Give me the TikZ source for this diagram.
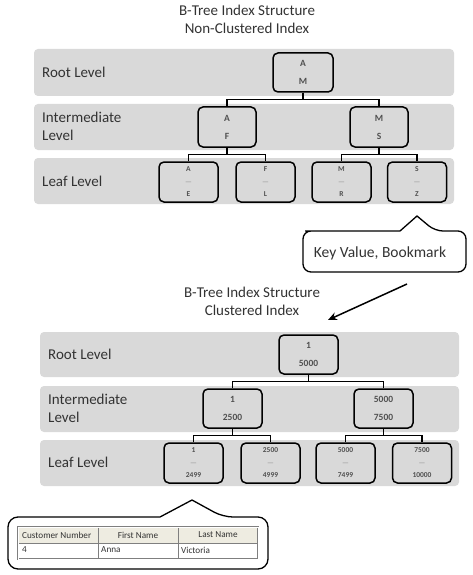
\documentclass[tikz,border=0pt]{standalone}
\usepackage{fontspec}
\setmainfont{Carlito}
\usetikzlibrary{arrows.meta}
\definecolor{band}{HTML}{D9D9D9}
\definecolor{txt}{HTML}{333333}
\definecolor{boxtxt}{HTML}{505050}
\definecolor{dashc}{HTML}{909090}
\definecolor{hdr}{HTML}{EEECE1}
\definecolor{grid}{HTML}{7F7F7F}
\tikzset{
  bandbox/.style={fill=band, rounded corners=4pt},
  keybox/.style={draw=black, line width=1.5pt, rounded corners=5pt, minimum width=59pt, minimum height=39pt, inner sep=0pt, align=center, text=boxtxt},
  rootfont/.style={font=\fontsize{9.5}{18}\selectfont\bfseries},
  leaffont/.style={font=\fontsize{7.5}{12.5}\selectfont\bfseries},
  lvl/.style={anchor=west, text=txt, font=\fontsize{15}{18}\selectfont, align=left, inner sep=0pt},
  ttl/.style={text=txt, font=\fontsize{15}{18}\selectfont, align=center, inner sep=0pt},
  conn/.style={draw=black, line width=1.3pt},
  callout/.style={draw=black, line width=1.3pt, fill=white},
  tbl/.style={font=\fontsize{9.2}{10}\selectfont, text=txt, inner sep=0pt}
}
\newcommand{\dsh}{\textcolor{dashc}{\textmd{---}}}
\begin{document}
\begin{tikzpicture}[x=1pt,y=-1pt]
\useasboundingbox[fill=white] (0,0) rectangle (472,575);

% ---------- Non-clustered ----------
\node[ttl] (t1) at (247,19) {B-Tree Index Structure\\Non-Clustered Index};
\fill[bandbox] (34,49) rectangle (454,96);
\fill[bandbox] (34,104) rectangle (454,150);
\fill[bandbox] (34,158) rectangle (454,204);
\node[lvl] (l1) at (42,72) {Root Level};
\node[lvl] (l2) at (42,126) {Intermediate\\Level};
\node[lvl] (l3) at (42,181) {Leaf Level};

\node[keybox, rootfont, minimum width=60pt] (r) at (303,72.5) {A\\M};
\node[keybox, rootfont, minimum width=58pt, minimum height=40pt] (ia) at (227,127) {A\\F};
\node[keybox, rootfont, minimum width=58pt, minimum height=40pt] (ib) at (379,127) {M\\S};
\node[keybox, leaffont, minimum height=40pt] (la) at (188.5,182) {A\\\dsh\\E};
\node[keybox, leaffont, minimum height=40pt] (lb) at (265.5,182) {F\\\dsh\\L};
\node[keybox, leaffont, minimum height=40pt] (lc) at (341.5,182) {M\\\dsh\\R};
\node[keybox, leaffont, minimum height=40pt] (ld) at (417,182) {S\\\dsh\\Z};

\draw[conn] (r.south) -- ++(0,7) -| (ia.north);
\draw[conn] (r.south) -- ++(0,7) -| (ib.north);
\draw[conn] (ia.south) -- ++(0,7) -| (la.north);
\draw[conn] (ia.south) -- ++(0,7) -| (lb.north);
\draw[conn] (ib.south) -- ++(0,7) -| (lc.north);
\draw[conn] (ib.south) -- ++(0,7) -| (ld.north);

% callout Key Value
\draw[callout, rounded corners=8pt] (400,231) -- (313,231) -- (303,231) -- (303,272) -- (466,272) -- (466,231) -- (435,231) [sharp corners] -- (417,216) -- (400,231) -- cycle;
\node[text=txt, font=\fontsize{15.5}{18}\selectfont, inner sep=0pt] (kv) at (380,253) {Key Value, Bookmark};
\coordinate (a1) at (407,284);
\coordinate (a2) at (328,320);
\draw[line width=1.5pt, -{Stealth[length=9pt,width=8pt]}] (a1) -- (a2);

% ---------- Clustered ----------
\node[ttl] (t2) at (252,301) {B-Tree Index Structure\\Clustered Index};
\fill[bandbox] (40,332) rectangle (459,377);
\fill[bandbox] (40,386) rectangle (459,432);
\fill[bandbox] (40,440) rectangle (459,486);
\node[lvl] (m1) at (48,354) {Root Level};
\node[lvl] (m2) at (48,408.5) {Intermediate\\Level};
\node[lvl] (m3) at (48,462) {Leaf Level};

\node[keybox, rootfont] (cr) at (308.5,354.5) {1\\5000};
\node[keybox, rootfont] (cia) at (232.5,408.5) {1\\2500};
\node[keybox, rootfont] (cib) at (383.5,408.5) {5000\\7500};
\node[keybox, leaffont, minimum height=40pt] (cla) at (193.5,463) {1\\\dsh\\2499};
\node[keybox, leaffont, minimum height=40pt] (clb) at (270.5,463) {2500\\\dsh\\4999};
\node[keybox, leaffont, minimum height=40pt] (clc) at (345.5,463) {5000\\\dsh\\7499};
\node[keybox, leaffont, minimum height=40pt] (cld) at (422,463) {7500\\\dsh\\10000};

\draw[conn] (cr.south) -- ++(0,7) -| (cia.north);
\draw[conn] (cr.south) -- ++(0,7) -| (cib.north);
\draw[conn] (cia.south) -- ++(0,7) -| (cla.north);
\draw[conn] (cia.south) -- ++(0,7) -| (clb.north);
\draw[conn] (cib.south) -- ++(0,7) -| (clc.north);
\draw[conn] (cib.south) -- ++(0,7) -| (cld.north);

% callout table
\draw[callout, rounded corners=10pt] (160,517) -- (8,517) -- (8,569) -- (268,569) -- (268,517) -- (223,517) [sharp corners] -- (192,500) -- (160,517) -- cycle;
\fill[hdr] (18,527) rectangle (258,543);
\draw[grid, line width=0.8pt] (18,543) -- (258,543);
\draw[grid, line width=0.8pt] (98,527) -- (98,559);
\draw[grid, line width=0.8pt] (178,527) -- (178,559);
\draw[grid, line width=0.6pt, double=white, double distance=0.8pt] (18,527) rectangle (258,559);
\node[tbl, anchor=west] (h1) at (22,535) {Customer Number};
\node[tbl] (h2) at (138,535) {First Name};
\node[tbl] (h3) at (218,535) {Last Name};
\node[tbl, anchor=west] (c1) at (22,550) {4};
\node[tbl, anchor=west] (c2) at (101,550) {Anna};
\node[tbl, anchor=west] (c3) at (181,550) {Victoria};
\end{tikzpicture}
\end{document}
